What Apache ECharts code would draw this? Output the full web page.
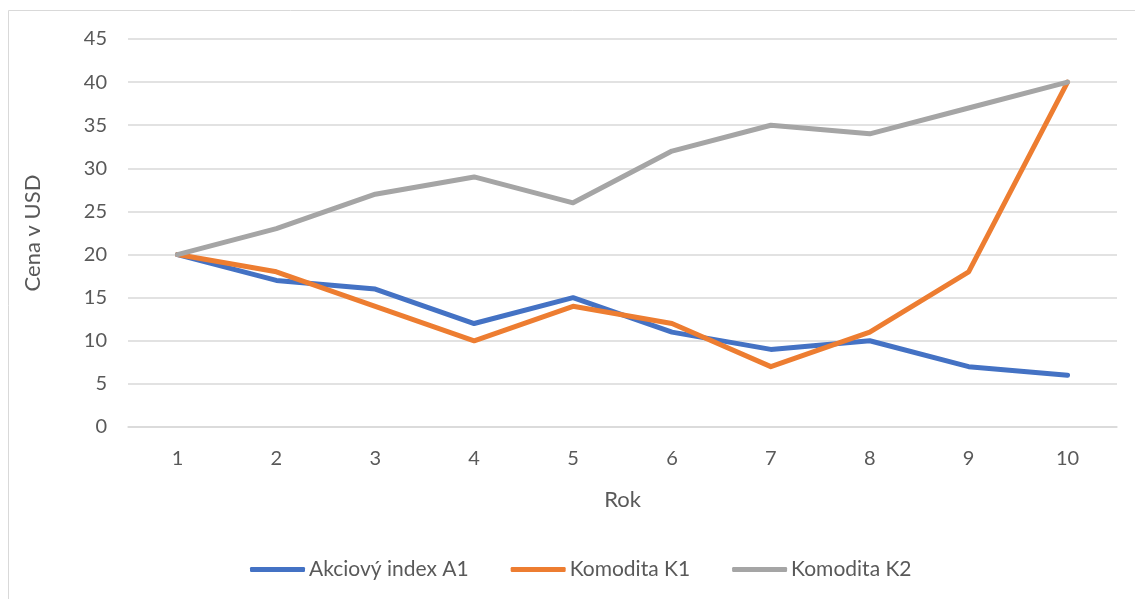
<!DOCTYPE html>
<html>
<head>
<meta charset="utf-8">
<script src="https://cdn.jsdelivr.net/npm/echarts@6/dist/echarts.min.js"></script>
<style>
html,body{margin:0;padding:0;background:#fff;}
#main{width:1135px;height:599px;}
</style>
</head>
<body>
<div id="main"></div>
<script>
var years = ['1','2','3','4','5','6','7','8','9','10'];
var akciovyA1 = [20,17,16,12,15,11,9,10,7,6];
var komoditaK1 = [20,18,14,10,14,12,7,11,18,40];
var komoditaK2 = [20,23,27,29,26,32,35,34,37,40];

var font = 'Lato, "Open Sans", sans-serif';
var chart = echarts.init(document.getElementById('main'));
var option = {
    animation: false,
    color: ['#4472C4','#ED7D31','#A5A5A5'],
    graphic: [{
        type: 'rect',
        shape: {x: 8.5, y: 10.5, width: 1140, height: 600},
        style: {fill: 'none', stroke: '#d9d9d9', lineWidth: 1},
        silent: true
    }],
    grid: {left: 128, right: 18, top: 39, bottom: 172, containLabel: false},
    legend: {
        top: 554,
        left: 245,
        itemWidth: 55,
        itemHeight: 5,
        itemGap: 42,
        icon: 'roundRect',
        textStyle: {color: '#595959', fontSize: 21, fontFamily: font, padding: [0,0,0,-1]},
        data: ['Akciový index A1','Komodita K1','Komodita K2']
    },
    xAxis: {
        type: 'category',
        data: years,
        boundaryGap: true,
        name: 'Rok',
        nameLocation: 'middle',
        nameGap: 62,
        nameTextStyle: {color: '#595959', fontSize: 22, fontFamily: font},
        axisLine: {lineStyle: {color: '#d9d9d9', width: 1.5}},
        axisTick: {show: false},
        axisLabel: {color: '#595959', fontSize: 20, fontFamily: font, margin: 22}
    },
    yAxis: {
        type: 'value',
        min: 0,
        max: 45,
        interval: 5,
        name: 'Cena v USD',
        nameLocation: 'middle',
        nameGap: 84,
        nameTextStyle: {color: '#595959', fontSize: 22, fontFamily: font},
        axisLine: {show: false},
        axisTick: {show: false},
        axisLabel: {color: '#595959', fontSize: 20, fontFamily: font, margin: 21},
        splitLine: {lineStyle: {color: '#d9d9d9', width: 1.5}}
    },
    series: [
        {name: 'Akciový index A1', type: 'line', data: akciovyA1, symbol: 'none', lineStyle: {width: 5, cap: 'round', join: 'round'}},
        {name: 'Komodita K1', type: 'line', data: komoditaK1, symbol: 'none', lineStyle: {width: 5, cap: 'round', join: 'round'}},
        {name: 'Komodita K2', type: 'line', data: komoditaK2, symbol: 'none', lineStyle: {width: 5, cap: 'round', join: 'round'}}
    ]
};
chart.setOption(option);
</script>
</body>
</html>
